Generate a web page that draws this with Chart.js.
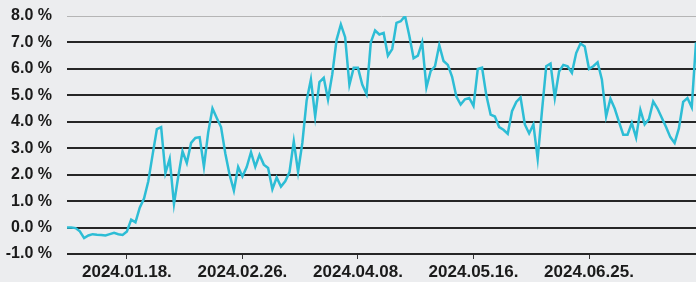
<!DOCTYPE html>
<html lang="ko">
<head>
  <meta charset="UTF-8" />
  <title>수익률 추이</title>
  <script src="https://cdn.jsdelivr.net/npm/chart.js"></script>
  <style>
    html, body {
      margin: 0;
      padding: 0;
      background-color: #ecedef;
    }
    #wrap {
      width: 696px;
      height: 282px;
    }
  </style>
</head>
<body>
  <div id="wrap">
    <canvas id="rateChart"></canvas>
  </div>

  <script>
    // 일별 수익률 (%), 거래일 순서
    const returns = [
      0.0, 0.0, -0.02, -0.14, -0.4, -0.3, -0.25, -0.27, -0.28, -0.3,
      -0.25, -0.2, -0.25, -0.28, -0.15, 0.3, 0.2, 0.75, 1.1, 1.75,
      2.75, 3.72, 3.8, 2.06, 2.6, 0.89, 1.93, 2.88, 2.44, 3.2,
      3.39, 3.42, 2.3, 3.6, 4.5, 4.14, 3.8, 2.8, 2.0, 1.4,
      2.29, 1.93, 2.29, 2.85, 2.3, 2.75, 2.38, 2.25, 1.45, 1.89,
      1.55, 1.75, 2.1, 3.26, 2.1, 3.2, 4.8, 5.6, 4.2, 5.5,
      5.66, 4.84, 5.8, 7.1, 7.68, 7.2, 5.4, 6.04, 6.04, 5.41,
      5.05, 7.0, 7.45, 7.3, 7.36, 6.5, 6.75, 7.74, 7.8, 8.0,
      7.25, 6.4, 6.5, 7.0, 5.3, 5.92, 6.1, 6.9, 6.3, 6.15,
      5.7, 4.95, 4.65, 4.85, 4.9, 4.6, 6.0, 6.05, 5.0, 4.27,
      4.2, 3.8, 3.7, 3.55, 4.4, 4.75, 4.92, 3.9, 3.56, 3.9,
      2.6, 4.4, 6.1, 6.2, 4.9, 5.9, 6.15, 6.1, 5.85, 6.6,
      6.96, 6.85, 6.0, 6.1, 6.25, 5.6, 4.2, 4.87, 4.5, 4.0,
      3.51, 3.51, 3.95, 3.4, 4.45, 3.9, 4.1, 4.77, 4.5, 4.15,
      3.8, 3.42, 3.2, 3.75, 4.75, 4.9, 4.55, 7.0
    ];

    // x축 눈금 (거래일 인덱스와 날짜)
    const tickIdx = [14, 41, 68, 95, 122];
    const tickLabels = ['2024.01.18.', '2024.02.26.', '2024.04.08.', '2024.05.16.', '2024.06.25.'];

    // y축 범위
    const yMin = -1;
    const yMax = 8;

    const points = returns.map((v, i) => ({ x: i, y: v }));

    const ctx = document.getElementById('rateChart').getContext('2d');
    new Chart(ctx, {
      type: 'line',
      data: {
        datasets: [{
          data: points,
          borderColor: '#2dbdd5',
          borderWidth: 2.5,
          pointRadius: 0,
          tension: 0,
          fill: false
        }]
      },
      options: {
        responsive: true,
        maintainAspectRatio: false,
        animation: false,
        layout: {
          padding: { top: 16, right: 0, bottom: 0, left: 0 }
        },
        plugins: {
          legend: { display: false },
          tooltip: { enabled: false }
        },
        scales: {
          x: {
            type: 'linear',
            min: 0,
            max: returns.length - 1,
            border: { display: false },
            afterFit: (scale) => {
              scale.height = 28;
              scale.paddingLeft = 0;
              scale.paddingRight = 0;
            },
            grid: {
              drawOnChartArea: false,
              drawTicks: true,
              tickLength: 5,
              color: '#333'
            },
            afterBuildTicks: (scale) => {
              scale.ticks = tickIdx.map(v => ({ value: v }));
            },
            ticks: {
              autoSkip: false,
              maxRotation: 0,
              padding: 3,
              color: '#1a1a1a',
              font: { family: 'Arial', size: 17, weight: 'bold' },
              callback: (v) => tickLabels[tickIdx.indexOf(v)]
            }
          },
          y: {
            min: yMin,
            max: yMax,
            border: { display: false },
            afterFit: (scale) => {
              scale.width = 67;
              scale.paddingTop = 0;
              scale.paddingBottom = 0;
            },
            grid: {
              drawTicks: false,
              color: (c) => c.tick && c.tick.value === yMax ? '#b5b5b5' : '#262626',
              lineWidth: (c) => c.tick && c.tick.value === yMax ? 1 : 2
            },
            ticks: {
              stepSize: 1,
              padding: 15,
              color: '#1a1a1a',
              font: { family: 'Arial', size: 16, weight: 'bold' },
              callback: (v) => v.toFixed(1) + ' %'
            }
          }
        }
      }
    });
  </script>
</body>
</html>
